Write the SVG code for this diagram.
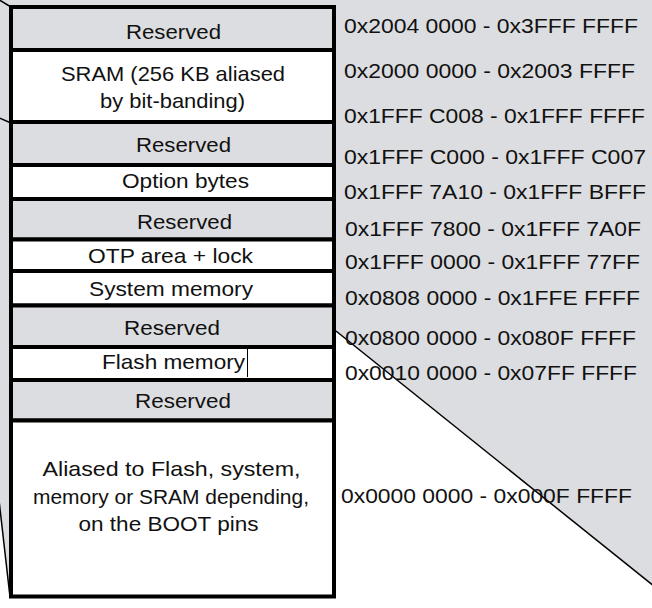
<svg xmlns="http://www.w3.org/2000/svg" width="652" height="608" viewBox="0 0 652 608">
  <style>
    .t { font-family: "Liberation Sans", Arial, sans-serif; font-size: 21px; fill: #111; }
    .c { text-anchor: middle; }
    .g { fill: #dcdde0; stroke: #000; stroke-width: 4; }
    .w { fill: #ffffff; stroke: #000; stroke-width: 4; }
    .ln { stroke: #000; stroke-width: 1.5; fill: none; }
  </style>
  <rect x="0" y="0" width="652" height="608" fill="#ffffff"/>
  <polygon id="background" points="0,0 652,0 652,585 336,331 336,597 10,597 -1,500 0,500" fill="#dcdde0"/>
  <g id="connectors">
    <line class="ln" x1="11" y1="7" x2="-3" y2="-1.5"/>
    <line class="ln" x1="11" y1="123" x2="-3" y2="117"/>
    <line class="ln" x1="10" y1="597" x2="-1" y2="500"/>
    <line class="ln" x1="336" y1="331" x2="660" y2="591"/>
  </g>
  <g id="reserved-1">
    <rect class="g" x="11" y="7" width="323" height="43"/>
    <text class="t c" x="173.5" y="38.5" textLength="95" lengthAdjust="spacingAndGlyphs">Reserved</text>
  </g>
  <g id="sram">
    <rect class="w" x="11" y="50" width="323" height="72"/>
    <text class="t c" x="173" y="81" textLength="224" lengthAdjust="spacingAndGlyphs">SRAM (256 KB aliased</text>
    <text class="t c" x="172.5" y="107.5" textLength="145" lengthAdjust="spacingAndGlyphs">by bit-banding)</text>
  </g>
  <g id="reserved-2">
    <rect class="g" x="11" y="122" width="323" height="43"/>
    <text class="t c" x="183.5" y="152" textLength="95" lengthAdjust="spacingAndGlyphs">Reserved</text>
  </g>
  <g id="option-bytes">
    <rect class="w" x="11" y="165" width="323" height="34"/>
    <text class="t c" x="185.5" y="187.5" textLength="127" lengthAdjust="spacingAndGlyphs">Option bytes</text>
  </g>
  <g id="reserved-3">
    <rect class="g" x="11" y="199" width="323" height="40.5"/>
    <text class="t c" x="184.5" y="229" textLength="95" lengthAdjust="spacingAndGlyphs">Reserved</text>
  </g>
  <g id="otp">
    <rect class="w" x="11" y="239.5" width="323" height="31.5"/>
    <text class="t c" x="170.5" y="263" textLength="165" lengthAdjust="spacingAndGlyphs">OTP area + lock</text>
  </g>
  <g id="system-memory">
    <rect class="w" x="11" y="271" width="323" height="34.5"/>
    <text class="t c" x="171" y="296" textLength="164" lengthAdjust="spacingAndGlyphs">System memory</text>
  </g>
  <g id="reserved-4">
    <rect class="g" x="11" y="305.5" width="323" height="41.5"/>
    <text class="t c" x="172" y="335" textLength="96" lengthAdjust="spacingAndGlyphs">Reserved</text>
  </g>
  <g id="flash-memory">
    <rect class="w" x="11" y="347" width="323" height="33"/>
    <text class="t c" x="173.5" y="368.5" textLength="143" lengthAdjust="spacingAndGlyphs">Flash memory</text>
    <line x1="247.5" y1="348" x2="247.5" y2="377" stroke="#000" stroke-width="1"/>
  </g>
  <g id="reserved-5">
    <rect class="g" x="11" y="380" width="323" height="40.5"/>
    <text class="t c" x="183" y="407.5" textLength="96" lengthAdjust="spacingAndGlyphs">Reserved</text>
  </g>
  <g id="aliased">
    <rect class="w" x="11" y="420.5" width="323" height="176"/>
    <text class="t c" x="171.5" y="475.5" textLength="258" lengthAdjust="spacingAndGlyphs">Aliased to Flash, system,</text>
    <text class="t c" x="171" y="503.5" textLength="276" lengthAdjust="spacingAndGlyphs">memory or SRAM depending,</text>
    <text class="t c" x="168.5" y="530.5" textLength="180" lengthAdjust="spacingAndGlyphs">on the BOOT pins</text>
  </g>
  <g id="addresses">
    <text class="t" x="344" y="33" textLength="294" lengthAdjust="spacingAndGlyphs">0x2004 0000 - 0x3FFF FFFF</text>
    <text class="t" x="344" y="78" textLength="291" lengthAdjust="spacingAndGlyphs">0x2000 0000 - 0x2003 FFFF</text>
    <text class="t" x="344" y="122.5" textLength="301" lengthAdjust="spacingAndGlyphs">0x1FFF C008 - 0x1FFF FFFF</text>
    <text class="t" x="344" y="164" textLength="302" lengthAdjust="spacingAndGlyphs">0x1FFF C000 - 0x1FFF C007</text>
    <text class="t" x="344" y="198.5" textLength="302" lengthAdjust="spacingAndGlyphs">0x1FFF 7A10 - 0x1FFF BFFF</text>
    <text class="t" x="345" y="236" textLength="296" lengthAdjust="spacingAndGlyphs">0x1FFF 7800 - 0x1FFF 7A0F</text>
    <text class="t" x="345" y="268.5" textLength="295" lengthAdjust="spacingAndGlyphs">0x1FFF 0000 - 0x1FFF 77FF</text>
    <text class="t" x="345" y="305" textLength="295" lengthAdjust="spacingAndGlyphs">0x0808 0000 - 0x1FFE FFFF</text>
    <text class="t" x="345" y="345" textLength="291" lengthAdjust="spacingAndGlyphs">0x0800 0000 - 0x080F FFFF</text>
    <text class="t" x="345" y="380" textLength="292" lengthAdjust="spacingAndGlyphs">0x0010 0000 - 0x07FF FFFF</text>
    <text class="t" x="341" y="503" textLength="291" lengthAdjust="spacingAndGlyphs">0x0000 0000 - 0x000F FFFF</text>
  </g>
</svg>
